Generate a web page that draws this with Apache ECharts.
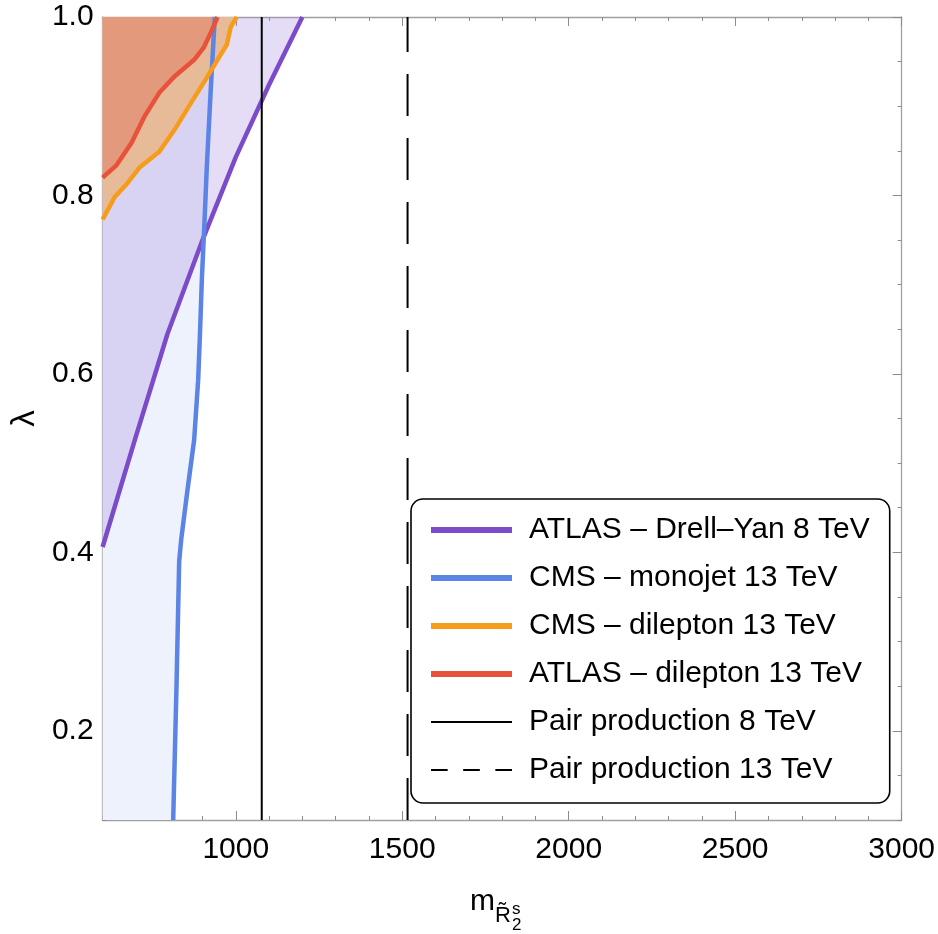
<!DOCTYPE html>
<html>
<head>
<meta charset="utf-8">
<script src="https://cdn.jsdelivr.net/npm/echarts@6/dist/echarts.min.js"></script>
<style>
  html, body { margin: 0; padding: 0; background: #fff; }
  #chart { width: 938px; height: 934px; }
</style>
</head>
<body>
<div id="chart"></div>
<script>
/* ---------- ticks ---------- */
const xMajor = [1000, 1500, 2000, 2500, 3000];
const xMinor = [600, 700, 800, 900, 1000, 1100, 1200, 1300, 1400, 1500, 1600, 1700, 1800,
                1900, 2000, 2100, 2200, 2300, 2400, 2500, 2600, 2700, 2800, 2900, 3000];
const yMajor = [0.2, 0.4, 0.6, 0.8, 1.0];
const yMinor = [0.1, 0.15, 0.2, 0.25, 0.3, 0.35, 0.4, 0.45, 0.5, 0.55, 0.6, 0.65, 0.7,
                0.75, 0.8, 0.85, 0.9, 0.95, 1.0];

/* ---------- exclusion contours (m, lambda) ---------- */
const atlasDY = [[600, 0.406], [700, 0.53], [795, 0.645], [900, 0.75], [1000, 0.843], [1100, 0.924], [1200, 1.0]];
const cmsMonojet = [[812, 0.1], [822, 0.25], [830, 0.39], [836, 0.414], [855, 0.47], [875, 0.526],
                    [887, 0.593], [893, 0.65], [898, 0.705], [906, 0.77], [913, 0.832], [925, 0.92], [937, 1.0]];
const cmsDilepton = [[600, 0.773], [636, 0.798], [675, 0.814], [710, 0.831], [770, 0.849], [815, 0.873],
                     [866, 0.904], [913, 0.932], [950, 0.955], [973, 0.969], [985, 0.989], [1003, 1.0]];
const atlasDilepton = [[600, 0.82], [642, 0.834], [687, 0.859], [725, 0.888], [770, 0.915], [815, 0.933],
                       [875, 0.952], [904, 0.966], [928, 0.985], [945, 1.0]];
const pair8 = [[1078, 0.1], [1078, 1.0]];
const pair13 = [[1516, 0.1], [1516, 1.0]];

const names = [
  'ATLAS – Drell–Yan 8 TeV',
  'CMS – monojet 13 TeV',
  'CMS – dilepton 13 TeV',
  'ATLAS – dilepton 13 TeV',
  'Pair production 8 TeV',
  'Pair production 13 TeV'
];

const FONT = 'Liberation Sans, Arial, sans-serif';
const FRAME = '#a0a0a0';
const TICK = '#8c8c8c';

const chart = echarts.init(document.getElementById('chart'));

/* filled region: polygon through data points, mapped with the axes */
function fill(points, color, z) {
  return {
    type: 'custom',
    silent: true,
    z: z,
    data: [[600, 1.0]],
    renderItem: (params, api) => ({
      type: 'polygon',
      shape: { points: points.map(p => api.coord(p)) },
      style: { fill: color }
    })
  };
}

function xAx(pos, ticks, len, line, labels) {
  return {
    type: 'value', min: 600, max: 3000, position: pos,
    splitLine: { show: false },
    axisLine: { show: line, onZero: false, lineStyle: { color: FRAME, width: 1.3 } },
    axisTick: { show: true, inside: true, length: len, customValues: ticks, lineStyle: { color: TICK, width: 1 } },
    axisLabel: labels
      ? { show: true, customValues: xMajor, fontSize: 30, color: '#000', fontFamily: FONT, margin: 15,
          formatter: v => String(v) }
      : { show: false }
  };
}
function yAx(pos, ticks, len, line, labels) {
  return {
    type: 'value', min: 0.1, max: 1.0, position: pos,
    splitLine: { show: false },
    axisLine: { show: line, onZero: false, lineStyle: { color: FRAME, width: 1.3 } },
    axisTick: { show: true, inside: true, length: len, customValues: ticks, lineStyle: { color: TICK, width: 1 } },
    axisLabel: labels
      ? { show: true, customValues: yMajor, fontSize: 30, color: '#000', fontFamily: FONT, margin: 9,
          formatter: v => v.toFixed(1) }
      : { show: false }
  };
}

const yName = yAx('left', yMajor, 9, true, true);
yName.name = 'λ';
yName.nameLocation = 'middle';
yName.nameGap = 52;
yName.nameRotate = 90;
yName.nameTextStyle = { fontSize: 33, color: '#000', fontFamily: FONT };

const dashIcon = 'path://M0,0H15V2H0Z M29,0H44V2H29Z M58,0H73V2H58Z';

chart.setOption({
  backgroundColor: '#fff',
  animation: false,
  grid: { left: 98, right: 35, top: 17, bottom: 114 },
  xAxis: [
    xAx('bottom', xMajor, 9, true, true),
    xAx('bottom', xMinor, 4, false, false),
    xAx('top', xMajor, 9, true, false),
    xAx('top', xMinor, 4, false, false)
  ],
  yAxis: [
    yName,
    yAx('left', yMinor, 4, false, false),
    yAx('right', yMajor, 9, true, false),
    yAx('right', yMinor, 4, false, false)
  ],
  legend: {
    orient: 'vertical',
    left: 411, top: 499,
    backgroundColor: '#fff',
    borderColor: '#000', borderWidth: 1.6, borderRadius: 12,
    padding: [16, 20, 18, 20],
    itemWidth: 81, itemHeight: 28, itemGap: 18,
    textStyle: { fontSize: 30, lineHeight: 30, color: '#000', fontFamily: FONT, padding: [0, 0, 0, 12] },
    data: [
      { name: names[0], icon: 'path://M0,0H80V6H0Z' },
      { name: names[1], icon: 'path://M0,0H80V6H0Z' },
      { name: names[2], icon: 'path://M0,0H80V6H0Z' },
      { name: names[3], icon: 'path://M0,0H80V6H0Z' },
      { name: names[4], icon: 'path://M0,0H80V2H0Z' },
      { name: names[5], icon: dashIcon }
    ]
  },
  graphic: [
    { type: 'text', left: 470, top: 887, style: { text: 'm', fontSize: 30, fontFamily: FONT, fill: '#000' } },
    { type: 'text', left: 495, top: 905, style: { text: 'R̃', fontSize: 22, fontFamily: FONT, fill: '#000' } },
    { type: 'text', left: 512, top: 901, style: { text: 's', fontSize: 17, fontFamily: FONT, fill: '#000' } },
    { type: 'text', left: 512, top: 917, style: { text: '2', fontSize: 17, fontFamily: FONT, fill: '#000' } }
  ],
  series: [
    fill(cmsMonojet.concat([[600, 1.0], [600, 0.1]]), '#edf2fc', 1),
    fill(atlasDY.concat([[600, 1.0]]), 'rgba(168,138,222,0.3)', 1),
    fill(cmsDilepton.concat([[600, 1.0]]), '#e8bb98', 1),
    fill(atlasDilepton.concat([[600, 1.0]]), '#e39a7c', 1),
    { type: 'line', name: names[0], data: atlasDY, symbol: 'none', z: 5,
      lineStyle: { color: '#7b4bc9', width: 4.5 }, itemStyle: { color: '#7b4bc9' } },
    { type: 'line', name: names[1], data: cmsMonojet, symbol: 'none', z: 5,
      lineStyle: { color: '#5b84e6', width: 4.5 }, itemStyle: { color: '#5b84e6' } },
    { type: 'line', name: names[2], data: cmsDilepton, symbol: 'none', z: 5,
      lineStyle: { color: '#f69c1c', width: 4.5 }, itemStyle: { color: '#f69c1c' } },
    { type: 'line', name: names[3], data: atlasDilepton, symbol: 'none', z: 5,
      lineStyle: { color: '#e8523b', width: 4.5 }, itemStyle: { color: '#e8523b' } },
    { type: 'line', name: names[4], data: pair8, symbol: 'none', z: 6,
      lineStyle: { color: '#000', width: 2 }, itemStyle: { color: '#000' } },
    { type: 'line', name: names[5], data: pair13, symbol: 'none', z: 6,
      lineStyle: { color: '#000', width: 2, type: [42, 22] }, itemStyle: { color: '#000' } }
  ]
});
</script>
</body>
</html>
